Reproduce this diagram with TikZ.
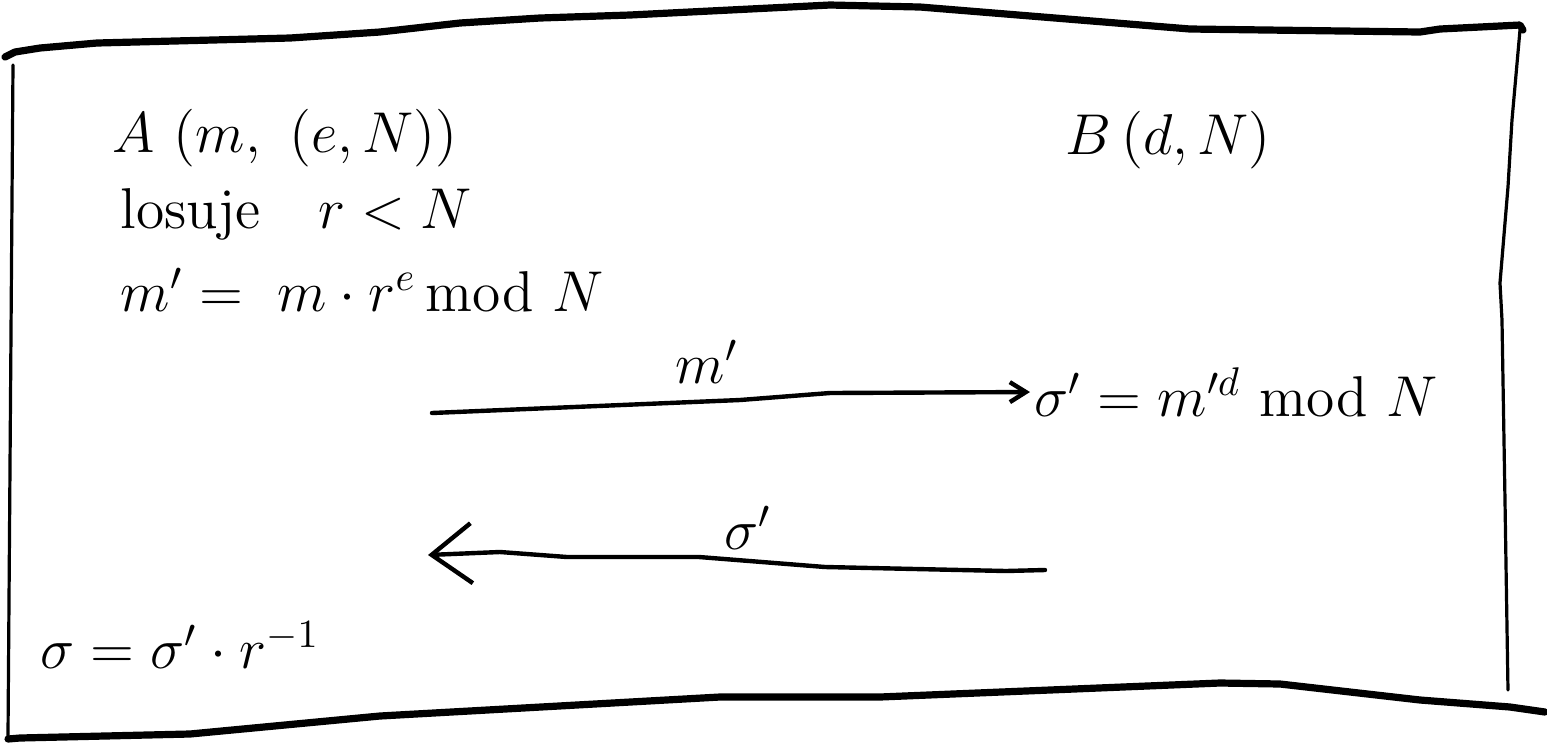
\documentclass[tikz,border=0pt]{standalone}
\usetikzlibrary{arrows.meta}
\begin{document}
\begin{tikzpicture}[x=0.25pt,y=-0.25pt,
  frame/.style={line width=1.8pt,line cap=round,line join=round},
  side/.style={line width=0.8pt,line cap=round},
  conn/.style={line width=1.1pt,line cap=round,line join=round},
  txt/.style={anchor=west,inner sep=0pt,font=\Large},
  lbl/.style={inner sep=0pt,font=\Large}]
\useasboundingbox (0,0) rectangle (1547,742);
% frame
\draw[frame] (5,57) -- (15,52) -- (40,48) -- (97,43) -- (290,38) -- (380,32) -- (460,23) -- (540,18) -- (630,15) -- (830,5) -- (920,7) -- (1190,29) -- (1420,32) -- (1440,29) -- (1520,25) -- (1523,30);
\draw[frame] (8,739) -- (20,738) -- (190,734) -- (380,716) -- (720,697) -- (880,697) -- (1220,683) -- (1280,684) -- (1420,700) -- (1510,707) -- (1545,712);
\draw[side] (13,65) -- (8,736);
\draw[side] (1520,30) -- (1512,120) -- (1508,187) -- (1500,283) -- (1502,320) -- (1505,500) -- (1508,690);
% texts
\node[txt] (A) at (112,138) {$A\ (m,\ (e,N))$};
\node[txt] (B) at (1065,140) {$B\,(d,N)$};
\node[txt] (los) at (120,214) {losuje\quad $r<N$};
\node[txt] (mp) at (120,290) {$m' =\ m\cdot r^{e}\,\mathrm{mod}\ N$};
\node[lbl] (l1) at (707,362) {$m'$};
\node[txt] (sp) at (1034,392) {$\sigma' = m'^{d}\ \mathrm{mod}\ N$};
\node[lbl] (l2) at (748,528) {$\sigma'$};
\node[txt] (s) at (40,645) {$\sigma = \sigma'\cdot r^{-1}$};
% connectors
\coordinate (u0) at (432,413);
\coordinate (w0) at (1045,570);
\coordinate (w1) at (428,555);
\draw[conn,-{Straight Barb[length=4pt,width=5pt]},shorten >=1pt] (u0) -- (740,400) -- (830,393) -- (sp.west);
\draw[conn,-{Straight Barb[length=10pt,width=15pt]}] (w0) -- (1006,571) -- (825,567) -- (699,557) -- (567,557) -- (500,552) -- (w1);
\end{tikzpicture}
\end{document}
